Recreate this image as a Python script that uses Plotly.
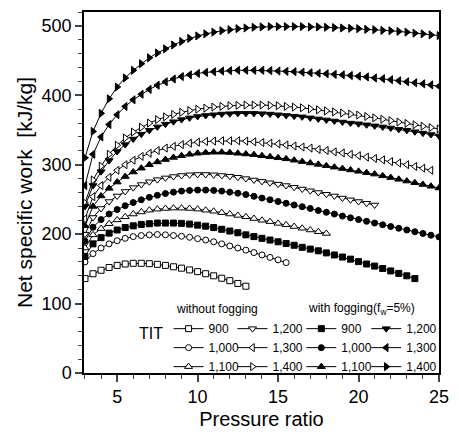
import plotly.graph_objects as go

# Pressure ratio positions of the computed points
PR = [3.0, 3.5, 4.0, 4.5, 5.0, 5.5, 6.0, 6.5, 7.0, 7.5, 8.0, 8.5, 9.0, 9.5, 10.0,
      10.5, 11.0, 11.5, 12.0, 12.5, 13.0, 13.5, 14.0, 14.5, 15.0, 15.5, 16.0, 16.5,
      17.0, 17.5, 18.0, 18.5, 19.0, 19.5, 20.0, 20.5, 21.0, 21.5, 22.0, 22.5, 23.0,
      23.5, 24.0, 24.5, 25.0]

# Net specific work [kJ/kg] without fogging, per TIT
nf900 = [136, 143, 148, 152, 155, 157, 158, 158, 157.5, 156.5, 155, 153, 151, 148.5,
         146, 143, 140, 136.5, 133, 129, 125]
nf1000 = [160, 172, 180, 186, 190.5, 194, 196.5, 198, 199, 199.5, 199, 198, 197, 195.5,
          193.5, 191.5, 189, 186, 183, 180, 177, 173.5, 170, 166.5, 163, 159]
nf1100 = [180, 199, 208, 215, 220.5, 225, 229, 232, 234.5, 236, 237, 237.5, 237.5, 237,
          236, 234.5, 233, 231, 229, 227, 225, 222.5, 220, 218, 215.5, 213.5, 211,
          208.5, 206, 203.5, 201]
nf1200 = [200, 224, 237, 247, 255, 261.5, 267, 271.5, 275.5, 278.5, 281, 283, 284.5,
          285.5, 286, 286, 285.5, 284.5, 283.5, 282, 280, 278, 276, 274, 272, 270,
          267.5, 265, 262.5, 260, 257.5, 255, 252, 249.5, 247, 244.5, 242]
nf1300 = [222, 254, 270, 282, 292, 300, 306.5, 312, 316.5, 320.5, 324, 326.5, 329, 331,
          332.5, 333.5, 334, 334.5, 334.5, 334.5, 334, 333, 332, 331, 330, 328.5, 327,
          325.5, 324, 322, 320.5, 318.5, 317, 315, 313, 311, 309, 307, 304.5, 302.5,
          300, 297.5, 295, 292]
nf1400 = [245, 278, 298, 315, 328, 338.5, 347, 354, 360, 365, 369, 372.5, 375.5, 378,
          380, 381.5, 383, 384, 385, 385.5, 386, 386, 386, 385.5, 385, 384, 383, 382,
          380.5, 379, 377.5, 376, 374.5, 373, 371.5, 369.5, 367.5, 365.5, 363.5, 361.5,
          359.5, 357.5, 355.5, 353.5, 351.5]

# Net specific work [kJ/kg] with fogging (fw = 5%), per TIT
f900 = [168, 186, 195, 201.5, 206, 209.5, 212, 214, 215, 216, 216, 216, 215.5, 214.5,
        213, 211.5, 209.5, 207, 204.5, 202, 199, 196.5, 194, 191.5, 189, 186.5, 184,
        181, 178.5, 176, 173, 170, 167, 164, 160.5, 157, 154, 150.5, 147, 143.5, 140, 136]
f1000 = [190, 210, 221, 229, 235.5, 241, 245.5, 249.5, 253, 256, 258.5, 260.5, 262, 263,
         263.5, 263.5, 263, 262, 260.5, 259, 257, 254.5, 252, 249.5, 247, 244.5, 242,
         239.5, 237, 234, 231.5, 229, 226, 223.5, 221, 218.5, 216, 213.5, 211, 208.5,
         206, 203.5, 201, 198.5, 196]
f1100 = [212, 240, 255, 266, 275, 283, 289.5, 295, 300, 304, 307.5, 310.5, 313, 315,
         316.5, 317.5, 318, 318, 317.5, 316.5, 315.5, 314.5, 313, 311.5, 310, 308.5,
         306.5, 304.5, 302.5, 300.5, 298.5, 296.5, 294.5, 292.5, 290.5, 288.5, 286.5,
         284, 281.5, 279, 276.5, 274, 271.5, 269, 266.5]
f1200 = [240, 270, 290, 306, 319, 329, 337, 344, 349.5, 354.5, 358.5, 362, 365, 367.5,
         369.5, 371, 372, 373, 373.5, 374, 374, 374, 373.5, 373, 372, 371, 370, 369,
         367.5, 366, 364.5, 363, 361.5, 360, 359, 357.5, 356, 354.5, 353, 351, 349.5,
         347.5, 345.5, 343.5, 341.5]
f1300 = [270, 315, 340, 358, 372, 384, 393.5, 401.5, 408.5, 414.5, 419.5, 423.5, 427,
         429.5, 431.5, 433, 434, 435, 435.5, 436, 436, 436, 436, 435.5, 435, 434.5, 434,
         433.3, 432.5, 431.8, 431, 430.2, 429.5, 428.5, 427.5, 426.5, 425, 424, 422.5,
         421, 419.5, 418, 416.5, 415, 413]
f1400 = [310, 348, 374, 395, 412, 425, 436, 445.5, 454, 461, 467, 472.5, 477.5, 482,
         485.5, 488.5, 491, 493, 494.5, 496, 497, 498, 498.5, 499, 499, 499, 499, 499,
         498.5, 498.5, 498, 497.5, 497, 496.5, 496, 495, 494.5, 493.5, 493, 492, 491,
         489.5, 488.5, 487, 486]

TIT_LABELS = ["900", "1,000", "1,100", "1,200", "1,300", "1,400"]
X_TICKS = [5, 10, 15, 20, 25]
Y_TICKS = [0, 100, 200, 300, 400, 500]

FONT = "Liberation Sans, Arial, Helvetica, sans-serif"

series = [
    (TIT_LABELS[0], nf900, "square", False, "legend"),
    (TIT_LABELS[1], nf1000, "circle", False, "legend"),
    (TIT_LABELS[2], nf1100, "triangle-up", False, "legend"),
    (TIT_LABELS[3], nf1200, "triangle-down", False, "legend2"),
    (TIT_LABELS[4], nf1300, "triangle-left", False, "legend2"),
    (TIT_LABELS[5], nf1400, "triangle-right", False, "legend2"),
    (TIT_LABELS[0], f900, "square", True, "legend3"),
    (TIT_LABELS[1], f1000, "circle", True, "legend3"),
    (TIT_LABELS[2], f1100, "triangle-up", True, "legend3"),
    (TIT_LABELS[3], f1200, "triangle-down", True, "legend4"),
    (TIT_LABELS[4], f1300, "triangle-left", True, "legend4"),
    (TIT_LABELS[5], f1400, "triangle-right", True, "legend4"),
]

fig = go.Figure()
for name, ys, sym, filled, leg in series:
    size = 7 if sym.startswith("triangle") else 6
    fig.add_trace(go.Scatter(
        x=PR[:len(ys)], y=ys, mode="lines+markers", name=name, legend=leg,
        line=dict(color="black", width=1),
        marker=dict(symbol=sym, size=size, color="black" if filled else "white",
                    line=dict(color="black", width=1)),
    ))

W, H = 459, 437
ML, MR, MT, MB = 84, 14, 10, 59
PW, PH = W - ML - MR, H - MT - MB


def px_x(px):
    return (px - ML) / PW


def px_y(py):
    return (H - MB - py) / PH


leg_common = dict(bgcolor="rgba(0,0,0,0)", borderwidth=0, xanchor="left", yanchor="top",
                  font=dict(family=FONT, size=12, color="black"), itemwidth=30,
                  traceorder="normal", tracegroupgap=0, y=px_y(318))

fig.update_layout(
    width=W, height=H,
    margin=dict(l=ML, r=MR, t=MT, b=MB),
    paper_bgcolor="white", plot_bgcolor="white",
    font=dict(family=FONT, color="black"),
    xaxis=dict(range=[2.94, 25], tickvals=X_TICKS, ticks="outside", ticklen=7, tickwidth=1.5,
               showline=True, linewidth=1.5, linecolor="black", mirror=True,
               showgrid=False, zeroline=False, tickfont=dict(size=18),
               minor=dict(dtick=1, tick0=0, ticks="outside", ticklen=4, tickwidth=1),
               title=dict(text="Pressure ratio", font=dict(size=20), standoff=6)),
    yaxis=dict(range=[0, 520], tickvals=Y_TICKS, ticks="outside", ticklen=7, tickwidth=1.5,
               showline=True, linewidth=1.5, linecolor="black", mirror=True,
               showgrid=False, zeroline=False, tickfont=dict(size=18),
               minor=dict(dtick=20, tick0=0, ticks="outside", ticklen=4, tickwidth=1),
               title=dict(text="Net specific work\u00a0 [kJ/kg]", font=dict(size=21), standoff=3)),
    legend=dict(x=px_x(170), **leg_common),
    legend2=dict(x=px_x(235), **leg_common),
    legend3=dict(x=px_x(305), **leg_common),
    legend4=dict(x=px_x(371), **leg_common),
    annotations=[
        dict(text="TIT", xref="paper", yref="paper", x=px_x(152), y=px_y(338),
             showarrow=False, font=dict(size=16), xanchor="center", yanchor="middle"),
        dict(text="without fogging", xref="paper", yref="paper", x=px_x(176), y=px_y(313),
             showarrow=False, font=dict(size=12), xanchor="left", yanchor="middle"),
        dict(text="with fogging(f<sub>w</sub>=5%)", xref="paper", yref="paper",
             x=px_x(310), y=px_y(313), showarrow=False, font=dict(size=12),
             xanchor="left", yanchor="middle"),
    ],
)

fig.write_html("out.html")
